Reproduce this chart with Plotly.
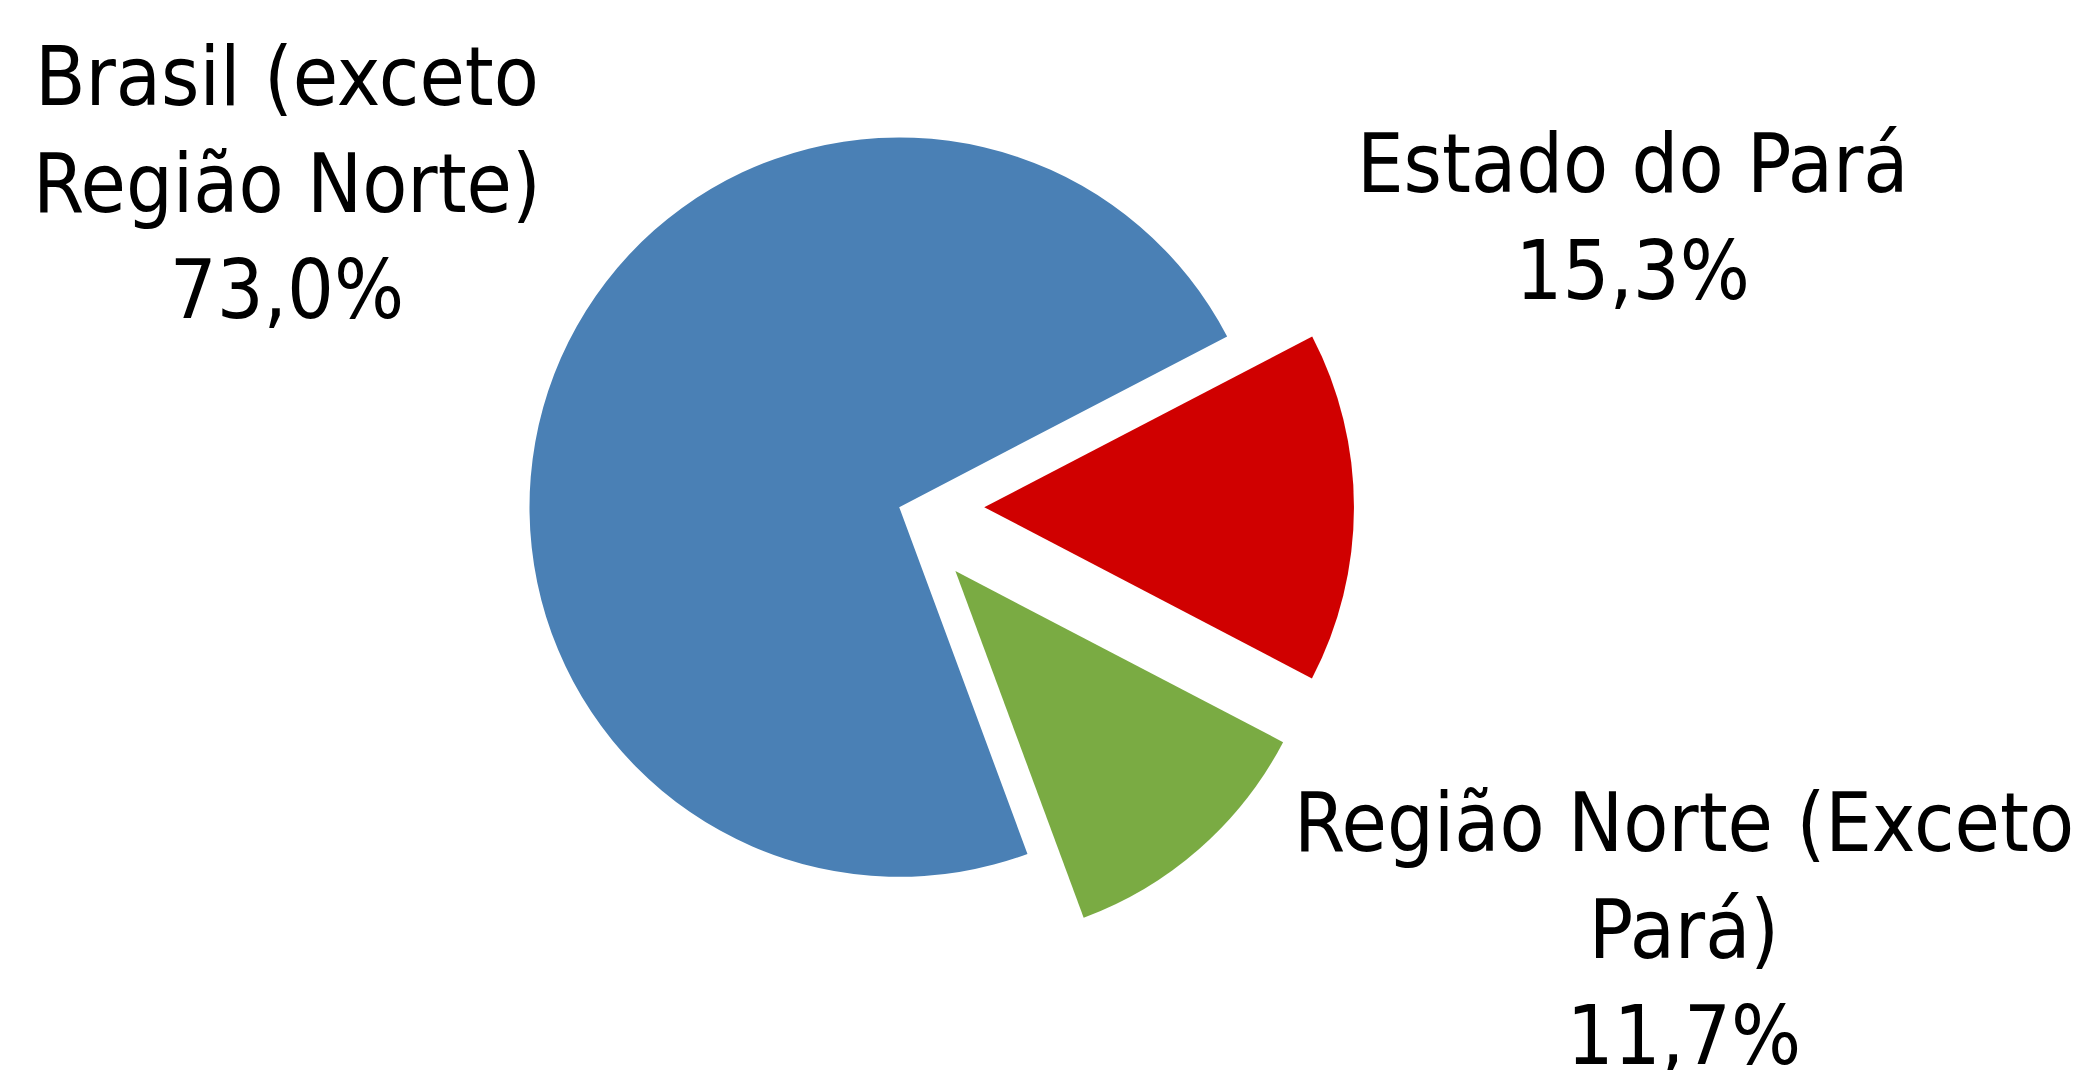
import plotly.graph_objects as go

# Data
categories = ["Estado do Pará", "Região Norte (Exceto Pará)", "Brasil (exceto Região Norte)"]
label_lines = ["Estado do Pará", "Região Norte (Exceto<br>Pará)", "Brasil (exceto<br>Região Norte)"]
values = [15.3, 11.7, 73.0]
colors = ["#d00000", "#7aab43", "#4a80b5"]
pulls = [0.23, 0.23, 0.0]

W, H = 2083, 1070
FONT = "DejaVu Sans Condensed, DejaVu Sans, sans-serif"

fig = go.Figure()
fig.add_trace(go.Pie(
    labels=categories,
    values=values,
    sort=False,
    direction="clockwise",
    rotation=62.5,
    pull=pulls,
    marker=dict(colors=colors, line=dict(width=0)),
    textinfo="none",
    hoverinfo="label+percent",
    showlegend=False,
    domain=dict(x=[0.2094, 0.6463], y=[0.1085, 0.9585]),
))

# label positions (paper coords) for each slice
label_pos = [(1624 / W, 0.805), (1676 / W, 0.139), (279 / W, 0.836)]

for lbl, v, (x, y) in zip(label_lines, values, label_pos):
    txt = f"{lbl}<br>{v:.1f}%".replace(".", ",")
    fig.add_annotation(
        x=x, y=y, xref="paper", yref="paper",
        text=txt, showarrow=False,
        xanchor="center", yanchor="middle", align="center",
        font=dict(family=FONT, size=82, color="#000000"),
    )

fig.update_layout(
    width=W, height=H,
    margin=dict(l=0, r=0, t=0, b=0),
    paper_bgcolor="white",
    plot_bgcolor="white",
)

fig.write_html("out.html")
